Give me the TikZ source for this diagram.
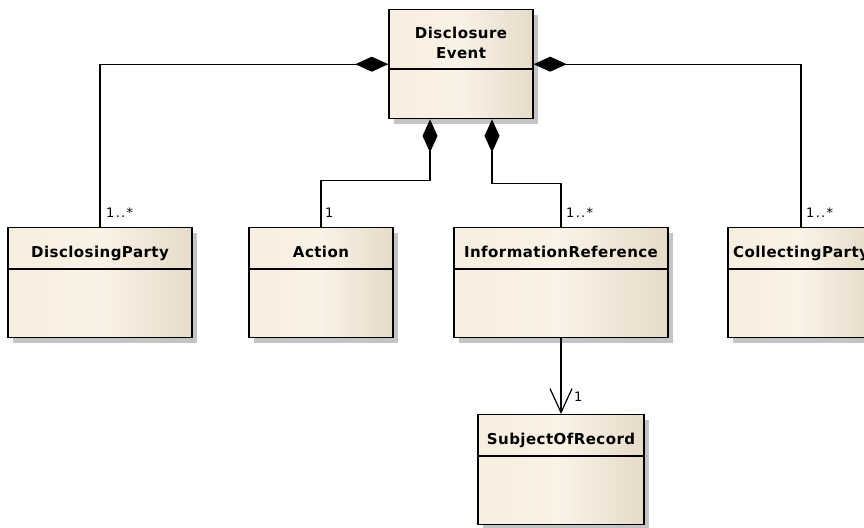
\documentclass[tikz,border=0pt]{standalone}
\usepackage{fontspec}
\setmainfont{DejaVu Sans}
\usetikzlibrary{arrows.meta,shadows}
\definecolor{clsL}{HTML}{F8EEDF}
\definecolor{clsM}{HTML}{FAF2E6}
\definecolor{clsR}{HTML}{E6DBC9}
\definecolor{shadowgray}{HTML}{C4C4C4}
\tikzset{
 cls/.style={draw=black, line width=1.4pt, left color=clsL, right color=clsR, middle color=clsM, anchor=north, inner sep=0pt, minimum height=110pt, drop shadow={shadow xshift=5pt, shadow yshift=-5pt, fill=shadowgray, opacity=1}},
 clsname/.style={font=\fontsize{15}{20}\selectfont\bfseries\addfontfeature{LetterSpace=3}, anchor=base, inner sep=0pt},
 mult/.style={font=\fontsize{13}{15}\selectfont\addfontfeature{LetterSpace=10}, anchor=west, inner sep=0pt},
 conn/.style={line width=1.2pt, draw=black},
 comp/.style={conn, {Diamond[length=33pt,width=15pt]}-},
 nav/.style={conn, -{Straight Barb[length=24pt,width=22pt,line width=1.2pt]}},
 divider/.style={line width=1.4pt, draw=black},
}
\begin{document}
\begin{tikzpicture}[x=1pt,y=-1pt]
\useasboundingbox (0,0) rectangle (864,527);
\fill[white] (0,0) rectangle (864,527);
% classes
\node[cls, minimum width=144pt, minimum height=109pt] (de) at (461,9) {};
\node[cls, minimum width=184pt] (dp) at (100,227) {};
\node[cls, minimum width=144pt] (act) at (321,227) {};
\node[cls, minimum width=214pt] (ir) at (561,227) {};
\node[cls, minimum width=146pt] (cp) at (801,227) {};
\node[cls, minimum width=166pt] (sor) at (561,414) {};
% dividers
\foreach \n/\d in {de/60, dp/42, act/42, ir/42, cp/42, sor/42}
  \draw[divider] ([yshift=-\d pt]\n.north west) -- ([yshift=-\d pt]\n.north east);
% names
\node[clsname, anchor=center, align=center] (dename) at (461,43) {Disclosure\\Event};
\node[clsname] (dpname) at ([yshift=-30pt]dp.north) {DisclosingParty};
\node[clsname] (actname) at ([yshift=-30pt]act.north) {Action};
\node[clsname] (irname) at ([yshift=-30pt]ir.north) {InformationReference};
\node[clsname] (cpname) at ([yshift=-30pt]cp.north) {CollectingParty};
\node[clsname] (sorname) at ([yshift=-30pt]sor.north) {SubjectOfRecord};
% connectors
\draw[comp] (de.west) -| (dp.north);
\draw[comp] (de.east) -| (cp.north);
\draw[comp] ([xshift=-31pt]de.south) -- ++(0,61) -| (act.north);
\draw[comp] ([xshift=31pt]de.south) -- ++(0,64) -| (ir.north);
\draw[nav] (ir.south) -- (sor.north);
% multiplicities
\node[mult] (m1) at ([xshift=6pt,yshift=14pt]dp.north) {1..*};
\node[mult] (m2) at ([xshift=4pt,yshift=14pt]act.north) {1};
\node[mult] (m3) at ([xshift=5pt,yshift=14pt]ir.north) {1..*};
\node[mult] (m4) at ([xshift=5pt,yshift=14pt]cp.north) {1..*};
\node[mult] (m5) at ([xshift=13pt,yshift=17pt]sor.north) {1};
\end{tikzpicture}
\end{document}
